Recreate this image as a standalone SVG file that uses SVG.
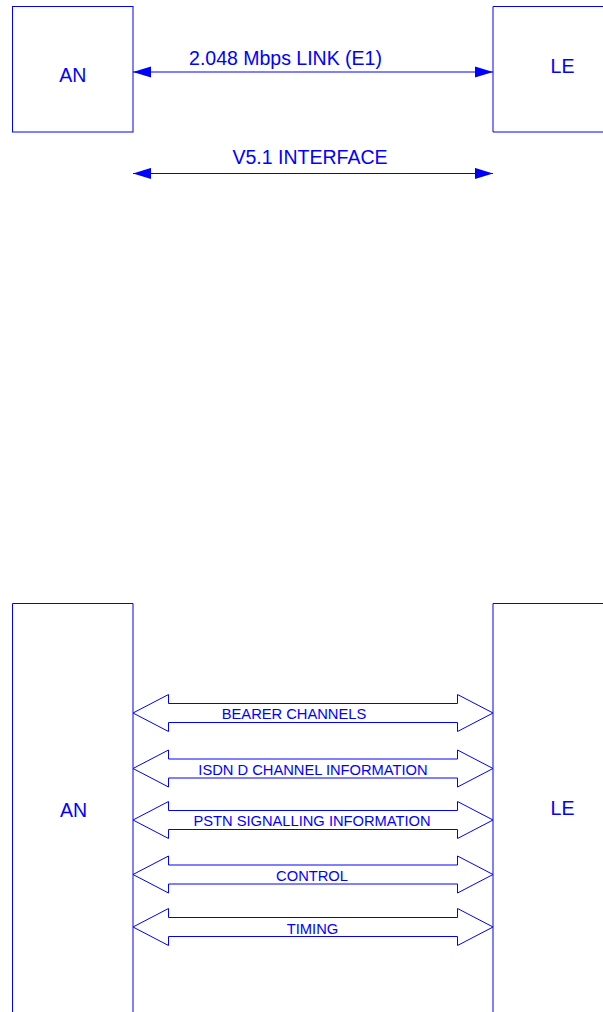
<svg xmlns="http://www.w3.org/2000/svg" width="603" height="1012" viewBox="0 0 603 1012">
  <style>
    .box { fill: none; stroke: #0000ff; stroke-width: 1; }
    .line { fill: none; stroke: #0000ff; stroke-width: 1; }
    .pipe { fill: #ffffff; stroke: #0000ff; stroke-width: 1; stroke-linejoin: miter; }
    .lbl { font-family: "Liberation Sans", Arial, sans-serif; fill: #0000ff; text-anchor: middle; }
    .big { font-size: 19.5px; }
    .small { font-size: 14.7px; }
  </style>
  <defs>
    <marker id="head" viewBox="0 0 18 12" refX="18" refY="6" markerWidth="18" markerHeight="12" markerUnits="userSpaceOnUse" orient="auto-start-reverse">
      <path d="M0,0.4 L18,6 L0,11.6 Z" fill="#0000ff"/>
    </marker>
  </defs>
  <rect width="603" height="1012" fill="#ffffff"/>

  <!-- upper view: single E1 link -->
  <g id="an-top">
    <rect class="box" x="12.5" y="6.5" width="120.5" height="125.5"/>
    <text class="lbl big" x="72.7" y="82">AN</text>
  </g>
  <g id="le-top">
    <path class="box" d="M610,6.5 H493 V132 H610"/>
    <text class="lbl big" x="562.5" y="73">LE</text>
  </g>

  <!-- lower view: functional channels across the interface -->
  <g id="an-bottom">
    <path class="box" d="M12.5,1015 V603.5 H133 V1015"/>
    <text class="lbl big" x="73.5" y="817">AN</text>
  </g>
  <g id="le-bottom">
    <path class="box" d="M493,1015 V603.5 H610"/>
    <text class="lbl big" x="562.5" y="815">LE</text>
  </g>

  <g id="connectors">
    <line class="line" x1="133" y1="72" x2="493" y2="72" marker-start="url(#head)" marker-end="url(#head)"/>
    <text class="lbl big" x="285.5" y="65">2.048 Mbps LINK (E1)</text>

    <line class="line" x1="133" y1="173.5" x2="493" y2="173.5" marker-start="url(#head)" marker-end="url(#head)"/>
    <text class="lbl big" x="310" y="164">V5.1 INTERFACE</text>

    <g id="bearer">
      <path class="pipe" d="M133,713 L168.5,694.5 V703.5 H457.5 V694.5 L493,713 L457.5,731.5 V722.5 H168.5 V731.5 Z"/>
      <text class="lbl small" x="294" y="719">BEARER CHANNELS</text>
    </g>
    <g id="isdn">
      <path class="pipe" d="M133,768.5 L168.5,750 V759 H457.5 V750 L493,768.5 L457.5,787 V778 H168.5 V787 Z"/>
      <text class="lbl small" x="313" y="775">ISDN D CHANNEL INFORMATION</text>
    </g>
    <g id="pstn">
      <path class="pipe" d="M133,820 L168.5,801.5 V810.5 H457.5 V801.5 L493,820 L457.5,838.5 V829.5 H168.5 V838.5 Z"/>
      <text class="lbl small" x="312" y="826">PSTN SIGNALLING INFORMATION</text>
    </g>
    <g id="control">
      <path class="pipe" d="M133,874.5 L168.5,856 V865 H457.5 V856 L493,874.5 L457.5,893 V884 H168.5 V893 Z"/>
      <text class="lbl small" x="312" y="881">CONTROL</text>
    </g>
    <g id="timing">
      <path class="pipe" d="M133,927 L168.5,908.5 V917.5 H457.5 V908.5 L493,927 L457.5,945.5 V936.5 H168.5 V945.5 Z"/>
      <text class="lbl small" x="312.5" y="933.5">TIMING</text>
    </g>
  </g>
</svg>
